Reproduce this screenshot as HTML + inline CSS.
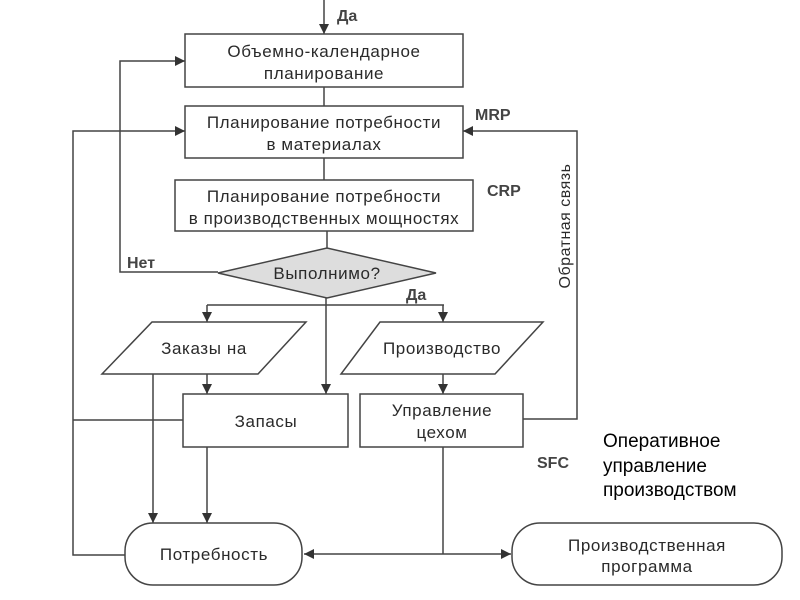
<!DOCTYPE html>
<html><head><meta charset="utf-8"><style>
html,body{margin:0;padding:0;background:#fff;width:800px;height:600px;overflow:hidden}
svg{display:block}
text{font-family:"Liberation Sans","DejaVu Sans",sans-serif;fill:#2a2a2a}
.b{font-weight:bold;fill:#444}
</style></head><body>
<svg width="800" height="600" viewBox="0 0 800 600" xmlns="http://www.w3.org/2000/svg">
<defs><marker id="a" viewBox="0 0 10 10" refX="10" refY="5" markerWidth="10" markerHeight="10" markerUnits="userSpaceOnUse" orient="auto"><path d="M0,0 L10,5 L0,10 z" fill="#333"/></marker></defs>
<g stroke="#444" stroke-width="1.5" fill="none">
<line x1="324" y1="0" x2="324" y2="34" marker-end="url(#a)"/>
<rect x="185" y="34" width="278" height="53" fill="#fff"/>
<line x1="324" y1="87" x2="324" y2="106"/>
<rect x="185" y="106" width="278" height="52" fill="#fff"/>
<line x1="324" y1="158" x2="324" y2="180"/>
<rect x="175" y="180" width="298" height="51"/>
<line x1="327" y1="231" x2="327" y2="248"/>
<polygon points="218,273 327,248 436,273 327,298" fill="#ddd"/>
<polyline points="218,272 120,272 120,61 185,61" marker-end="url(#a)"/>
<polyline points="125,555 73,555 73,131 185,131" marker-end="url(#a)"/>
<line x1="73" y1="420" x2="183" y2="420"/>
<polyline points="523,419 577,419 577,131 463,131" marker-end="url(#a)"/>
<line x1="207" y1="305" x2="444" y2="305"/>
<line x1="207" y1="305" x2="207" y2="322" marker-end="url(#a)"/>
<line x1="443" y1="305" x2="443" y2="322" marker-end="url(#a)"/>
<line x1="326" y1="298" x2="326" y2="394" marker-end="url(#a)"/>
<polygon points="152,322 306,322 258,374 102,374"/>
<polygon points="380,322 543,322 495,374 341,374"/>
<line x1="207" y1="374" x2="207" y2="394" marker-end="url(#a)"/>
<line x1="443" y1="374" x2="443" y2="394" marker-end="url(#a)"/>
<rect x="183" y="394" width="165" height="53"/>
<rect x="360" y="394" width="163" height="53"/>
<line x1="153" y1="374" x2="153" y2="523" marker-end="url(#a)"/>
<line x1="207" y1="447" x2="207" y2="523" marker-end="url(#a)"/>
<rect x="125" y="523" width="177" height="62" rx="28"/>
<rect x="512" y="523" width="270" height="62" rx="28"/>
<line x1="443" y1="447" x2="443" y2="554"/>
<line x1="443" y1="554" x2="304" y2="554" marker-end="url(#a)"/>
<line x1="443" y1="554" x2="511" y2="554" marker-end="url(#a)"/>
</g>
<g font-size="17" text-anchor="middle" letter-spacing="0.6">
<text x="324" y="57">Объемно-календарное</text>
<text x="324" y="79">планирование</text>
<text x="324" y="128">Планирование потребности</text>
<text x="324" y="150">в материалах</text>
<text x="324" y="202">Планирование потребности</text>
<text x="324" y="224">в производственных мощностях</text>
<text x="327" y="279">Выполнимо?</text>
<text x="204" y="354">Заказы на</text>
<text x="442" y="354">Производство</text>
<text x="266" y="427">Запасы</text>
<text x="442" y="416">Управление</text>
<text x="442" y="438">цехом</text>
<text x="214" y="560">Потребность</text>
<text x="647" y="551">Производственная</text>
<text x="647" y="572">программа</text>
</g>
<g font-size="16">
<text class="b" x="337" y="21">Да</text>
<text class="b" x="475" y="120">MRP</text>
<text class="b" x="487" y="196">CRP</text>
<text class="b" x="127" y="268">Нет</text>
<text class="b" x="406" y="300">Да</text>
<text class="b" x="537" y="468">SFC</text>
</g>
<text font-size="16" transform="translate(570,226) rotate(-90)" text-anchor="middle" letter-spacing="0.5">Обратная связь</text>
<g font-size="19">
<text x="603" y="447" style="fill:#000">Оперативное</text>
<text x="603" y="472" style="fill:#000">управление</text>
<text x="603" y="496" style="fill:#000">производством</text>
</g>
</svg>
</body></html>
